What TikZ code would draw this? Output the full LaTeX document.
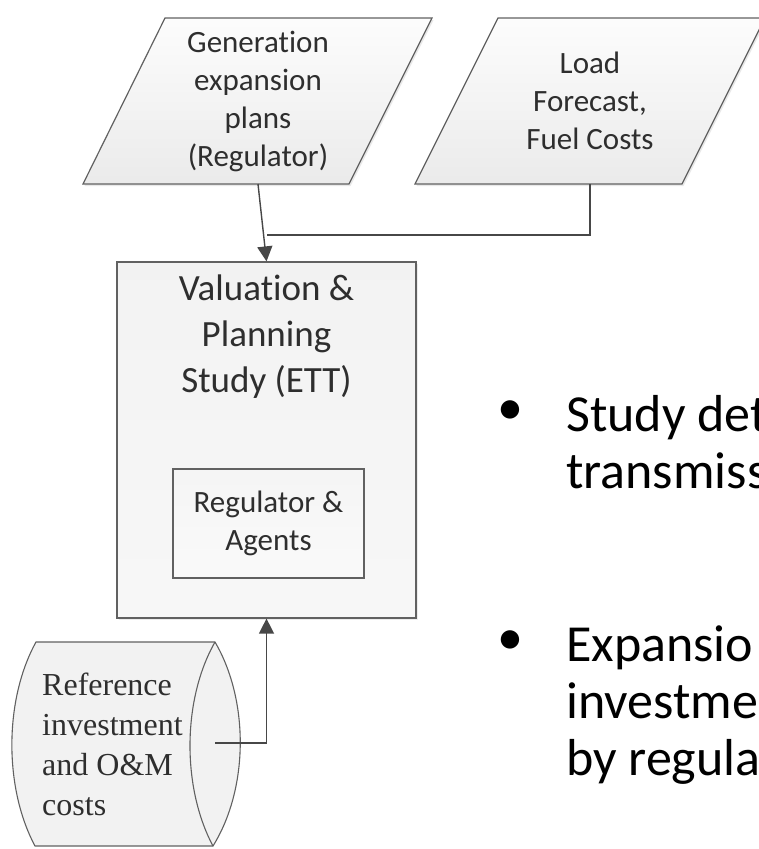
\documentclass[tikz,border=0pt]{standalone}
\usepackage{fontspec}
\newfontfamily\diagsans[Ligatures={NoCommon}]{Carlito}
\newfontfamily\diagserif{Liberation Serif}
\usetikzlibrary{arrows.meta,shadows}

\begin{document}
\begin{tikzpicture}[x=1pt,y=-1pt,
  outline/.style={draw=black!62, line width=1.2pt},
  inputshape/.style={outline, top color=black!1, bottom color=black!8,
    drop shadow={opacity=0.18, shadow xshift=1.5pt, shadow yshift=-2pt}},
  mainbox/.style={outline, top color=black!5, bottom color=black!3,
    minimum width=299pt, minimum height=356pt, inner sep=0pt,
    drop shadow={opacity=0.15, shadow xshift=1.5pt, shadow yshift=-2pt}},
  innerbox/.style={outline, top color=black!4, bottom color=black!2,
    minimum width=191pt, minimum height=109pt, inner sep=0pt},
  storeshape/.style={draw=black!62, line width=1.1pt, fill=black!5},
  flow/.style={draw=black!72, line width=1.4pt},
  tip/.style={-{Triangle[length=15pt,width=15pt]}},
  lbl/.style={font=\diagsans\fontsize{31}{38}\selectfont, align=center,
    text=black!82, inner sep=0pt},
  title/.style={font=\diagsans\fontsize{37}{46}\selectfont, align=center,
    text=black!82, inner sep=0pt},
  serifl/.style={font=\diagserif\fontsize{32}{40}\selectfont, align=left,
    text=black!82, inner sep=0pt},
  bulletl/.style={font=\diagsans\fontsize{52}{58}\selectfont, anchor=base west,
    text=black, inner sep=0pt},
  dot/.style={font=\diagsans\fontsize{52}{58}\selectfont, text=black, inner sep=0pt}]

\useasboundingbox (0,0) rectangle (759,849);
\clip (0,0) rectangle (759,849);

% input data (parallelograms)
\path[inputshape] (165,18) -- (432,18) -- (349,184) -- (83,184) -- cycle;
\node[lbl] (gen) at (258,101) {Generation\\expansion\\plans\\(Regulator)};
\coordinate (genbot) at (258,184);

\path[inputshape] (498,18) -- (765,18) -- (682,184) -- (415,184) -- cycle;
\node[lbl] (load) at (590,101) {Load\\Forecast,\\Fuel Costs};
\coordinate (loadbot) at (590,184);

% study process
\node[mainbox] (study) at (266.5,440) {};
\node[title] (studytitle) at (266.5,337) {Valuation \&\\Planning\\Study (ETT)};
\node[innerbox] (agents) at (268.5,523.5) {};
\node[lbl] (agentstext) at (agents.center) {Regulator \&\\Agents};

% stored data (horizontal drum)
\path[storeshape] (36,642) -- (215,642)
  .. controls (249,700) and (249,788) .. (213,846)
  -- (35,846)
  .. controls (4,788) and (4,700) .. (36,642) -- cycle;
\draw[draw=black!62, line width=1.1pt] (215,642)
  .. controls (182,700) and (182,788) .. (213,846);
\node[serifl, anchor=west] (refcost) at (42,744)
  {Reference\\investment\\and O\&M\\costs};
\coordinate (drumout) at (215,743);

% connectors
\coordinate (merge) at (266.5,235);
\draw[flow, tip] (genbot) -- (study.north);
\draw[flow] (loadbot) |- (merge);
\draw[flow, tip] (drumout) -| (study.south);

% bullet text
\node[dot] (dot1) at (510,413) {•};
\node[bulletl] (l1) at (566,431) {Study det};
\node[bulletl] (l2) at (566,488) {transmiss};
\node[dot] (dot2) at (510,643) {•};
\node[bulletl] (l3) at (566,661) {Expansio};
\node[bulletl] (l4) at (566,718) {investme};
\node[bulletl] (l5) at (566,775) {by regula};
\end{tikzpicture}
\end{document}
